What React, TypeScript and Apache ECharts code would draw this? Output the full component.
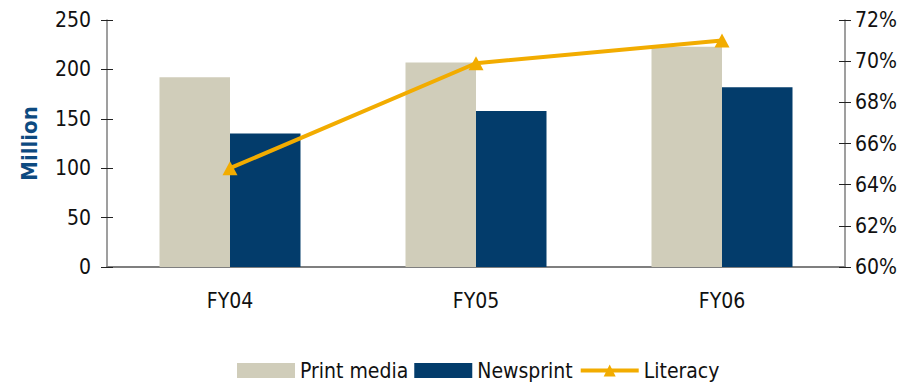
import React, { useEffect, useRef } from "react";
import * as echarts from "echarts";

// Fiscal years shown on the category axis
const years = ["FY04", "FY05", "FY06"];
// Circulation / consumption figures in millions
const printMedia = [192, 207, 223];
const newsprint = [135, 158, 182];
// Literacy rate in percent
const literacy = [64.8, 69.9, 71.0];

const FONT = '"DejaVu Sans Condensed", "Liberation Sans Narrow", "Arial Narrow", sans-serif';
const AXIS_GREY = "#7f7f7f";
const GOLD = "#f2ac00";

export default function App() {
  const ref = useRef<HTMLDivElement>(null);

  useEffect(() => {
    if (!ref.current) return;
    const chart = echarts.init(ref.current, undefined, { renderer: "svg" });
    const tickStyle = { color: "#222", width: 1 };
    chart.setOption({
      animation: false,
      textStyle: { fontFamily: FONT },
      grid: { left: 107, right: 62, top: 20, bottom: 115 },
      legend: {
        left: 232,
        top: 355,
        itemWidth: 58,
        itemHeight: 15,
        itemGap: 6,
        textStyle: { fontFamily: FONT, fontSize: 21, color: "#111" },
        data: [
          { name: "Print media", icon: "rect" },
          { name: "Newsprint", icon: "rect" },
          { name: "Literacy", lineStyle: { width: 4 } },
        ],
      },
      xAxis: [
        {
          type: "category",
          data: years,
          axisLine: { lineStyle: { color: AXIS_GREY, width: 2 } },
          axisTick: { length: 6, lineStyle: tickStyle },
          axisLabel: { margin: 23, fontSize: 21, color: "#111", fontFamily: FONT },
        },
        {
          type: "category",
          data: years,
          position: "bottom",
          axisLine: { show: false },
          axisTick: { inside: true, length: 6, lineStyle: tickStyle },
          axisLabel: { show: false },
        },
      ],
      yAxis: [
        {
          type: "value",
          min: 0,
          max: 250,
          interval: 50,
          name: "Million",
          nameLocation: "middle",
          nameGap: 67,
          nameTextStyle: { fontFamily: FONT, fontSize: 22, fontWeight: "bold", color: "#0d4a80" },
          splitLine: { show: false },
          axisLine: { show: true, lineStyle: { color: AXIS_GREY, width: 1.5 } },
          axisTick: { show: true, length: 6, lineStyle: tickStyle },
          axisLabel: { margin: 16, fontSize: 21, color: "#111", fontFamily: FONT },
        },
        {
          type: "value",
          min: 60,
          max: 72,
          interval: 2,
          position: "right",
          splitLine: { show: false },
          axisLine: { show: true, lineStyle: { color: AXIS_GREY, width: 1.5 } },
          axisTick: { show: true, length: 6, lineStyle: tickStyle },
          axisLabel: { margin: 10, fontSize: 21, color: "#111", fontFamily: FONT, formatter: "{value}%" },
        },
        {
          type: "value",
          min: 0,
          max: 250,
          interval: 50,
          position: "left",
          splitLine: { show: false },
          axisLine: { show: false },
          axisTick: { show: true, inside: true, length: 6, lineStyle: tickStyle },
          axisLabel: { show: false },
        },
        {
          type: "value",
          min: 60,
          max: 72,
          interval: 2,
          position: "right",
          splitLine: { show: false },
          axisLine: { show: false },
          axisTick: { show: true, inside: true, length: 6, lineStyle: tickStyle },
          axisLabel: { show: false },
        },
      ],
      series: [
        {
          name: "Print media",
          type: "bar",
          data: printMedia,
          barWidth: 70.5,
          barGap: "0%",
          itemStyle: { color: "#d0cdba" },
        },
        {
          name: "Newsprint",
          type: "bar",
          data: newsprint,
          barWidth: 70.5,
          barGap: "0%",
          itemStyle: { color: "#033c6b" },
        },
        {
          name: "Literacy",
          type: "line",
          yAxisIndex: 1,
          data: literacy,
          symbol: "triangle",
          symbolSize: [15, 14],
          lineStyle: { color: GOLD, width: 4 },
          itemStyle: { color: GOLD },
          z: 5,
        },
      ],
    });
    return () => chart.dispose();
  }, []);

  return (
    <div
      ref={ref}
      style={{ position: "fixed", left: 0, top: 0, width: 907, height: 382, background: "#fff" }}
    />
  );
}
